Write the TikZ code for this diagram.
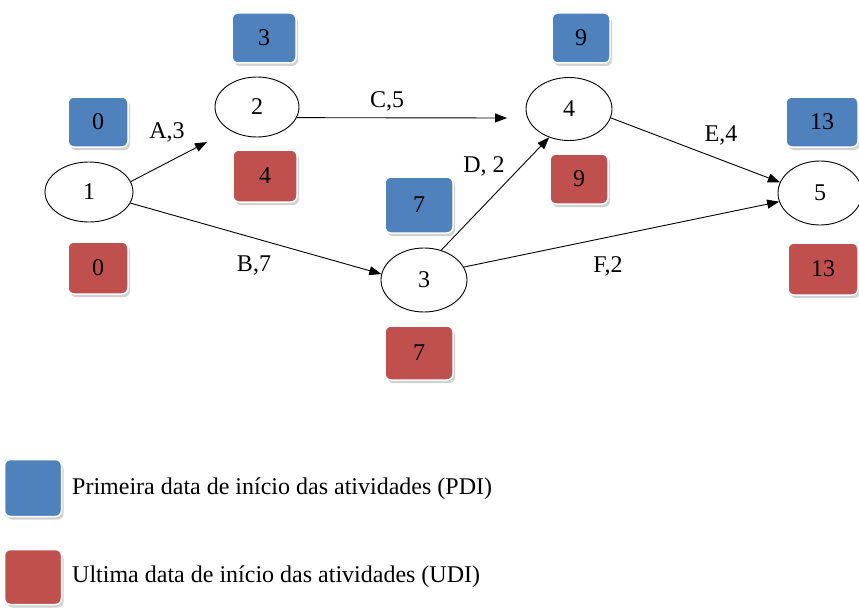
\documentclass[tikz,border=0pt]{standalone}
\usepackage{fontspec}
\setmainfont{Liberation Serif}
\usetikzlibrary{shapes.geometric,arrows.meta,shadows}
\definecolor{pdiblue}{RGB}{79,129,189}
\definecolor{udired}{RGB}{192,80,77}
\tikzset{
  ev/.style={ellipse,draw=black,line width=0.9pt,fill=white,inner sep=0pt,font=\fontsize{24}{28}\selectfont},
  databox/.style={rounded corners=6pt,draw=white,line width=1.5pt,inner sep=0pt,
     drop shadow={shadow xshift=2pt,shadow yshift=-3pt,fill=gray!45,opacity=0.8},
     font=\fontsize{24}{28}\selectfont},
  pdi/.style={databox,fill=pdiblue},
  udi/.style={databox,fill=udired},
  act/.style={draw=black,line width=0.9pt,-{Triangle[length=12pt,width=9pt]}},
  lbl/.style={font=\fontsize{24}{28}\selectfont,inner sep=0pt},
  legtxt/.style={font=\fontsize{24}{28}\selectfont,inner sep=0pt,anchor=west}
}
\begin{document}
\begin{tikzpicture}[x=1pt,y=-1pt]
\useasboundingbox[fill=white] (0,0) rectangle (859,610);
% events
\node[ev,minimum width=88pt,minimum height=60pt] (n1) at (89,192) {1};
\node[ev,minimum width=84pt,minimum height=60pt] (n2) at (257,107) {2};
\node[ev,minimum width=86pt,minimum height=64pt] (n3) at (424,280) {3};
\node[ev,minimum width=86pt,minimum height=63pt] (n4) at (569,109) {4};
\node[ev,minimum width=84pt,minimum height=64pt] (n5) at (820,193) {5};
% boxes
\node[pdi,minimum width=60pt,minimum height=50pt] (b0) at (98,122) {0};
\node[udi,minimum width=60pt,minimum height=52pt] (r0) at (98,268) {0};
\node[pdi,minimum width=64pt,minimum height=50pt] (b3) at (264,38) {3};
\node[udi,minimum width=64pt,minimum height=52pt] (r4) at (265,176) {4};
\node[pdi,minimum width=58pt,minimum height=50pt] (b9) at (581,38) {9};
\node[udi,minimum width=58pt,minimum height=50pt] (r9) at (579,179) {9};
\node[pdi,minimum width=68pt,minimum height=56pt] (b7) at (419,205) {7};
\node[udi,minimum width=68pt,minimum height=54pt] (r7) at (419,353) {7};
\node[pdi,minimum width=72pt,minimum height=50pt] (b13) at (822,122) {13};
\node[udi,minimum width=70pt,minimum height=52pt] (r13) at (823,269) {13};
% free arrow ends
\coordinate (aEnd) at (207,142);
\coordinate (cEnd) at (507,118);
% activities
\draw[act] (n1.14) -- (aEnd);
\draw[act] (n1.-15) -- (n3.172);
\draw[act] (n2.-15) -- (cEnd);
\draw[act] (n3.60) -- (n4.235);
\draw[act] (n4.-12) -- (n5.165);
\draw[act] (n3.18) -- (n5.192);
% labels
\node[lbl] (la) at (167,132) {A,3};
\node[lbl] (lb) at (254,265) {B,7};
\node[lbl] (lc) at (387,101) {C,5};
\node[lbl] (ld) at (484,166) {D, 2};
\node[lbl] (le) at (721,135) {E,4};
\node[lbl] (lf) at (608,266) {F,2};
% legend
\node[pdi,minimum width=57pt,minimum height=57pt] (legb) at (33,488) {};
\node[udi,minimum width=57pt,minimum height=55pt] (legr) at (33,577) {};
\node[legtxt] (legbt) at (72,489) {Primeira data de início das atividades (PDI)};
\node[legtxt] (legrt) at (72,577) {Ultima data de início das atividades (UDI)};
\end{tikzpicture}
\end{document}
